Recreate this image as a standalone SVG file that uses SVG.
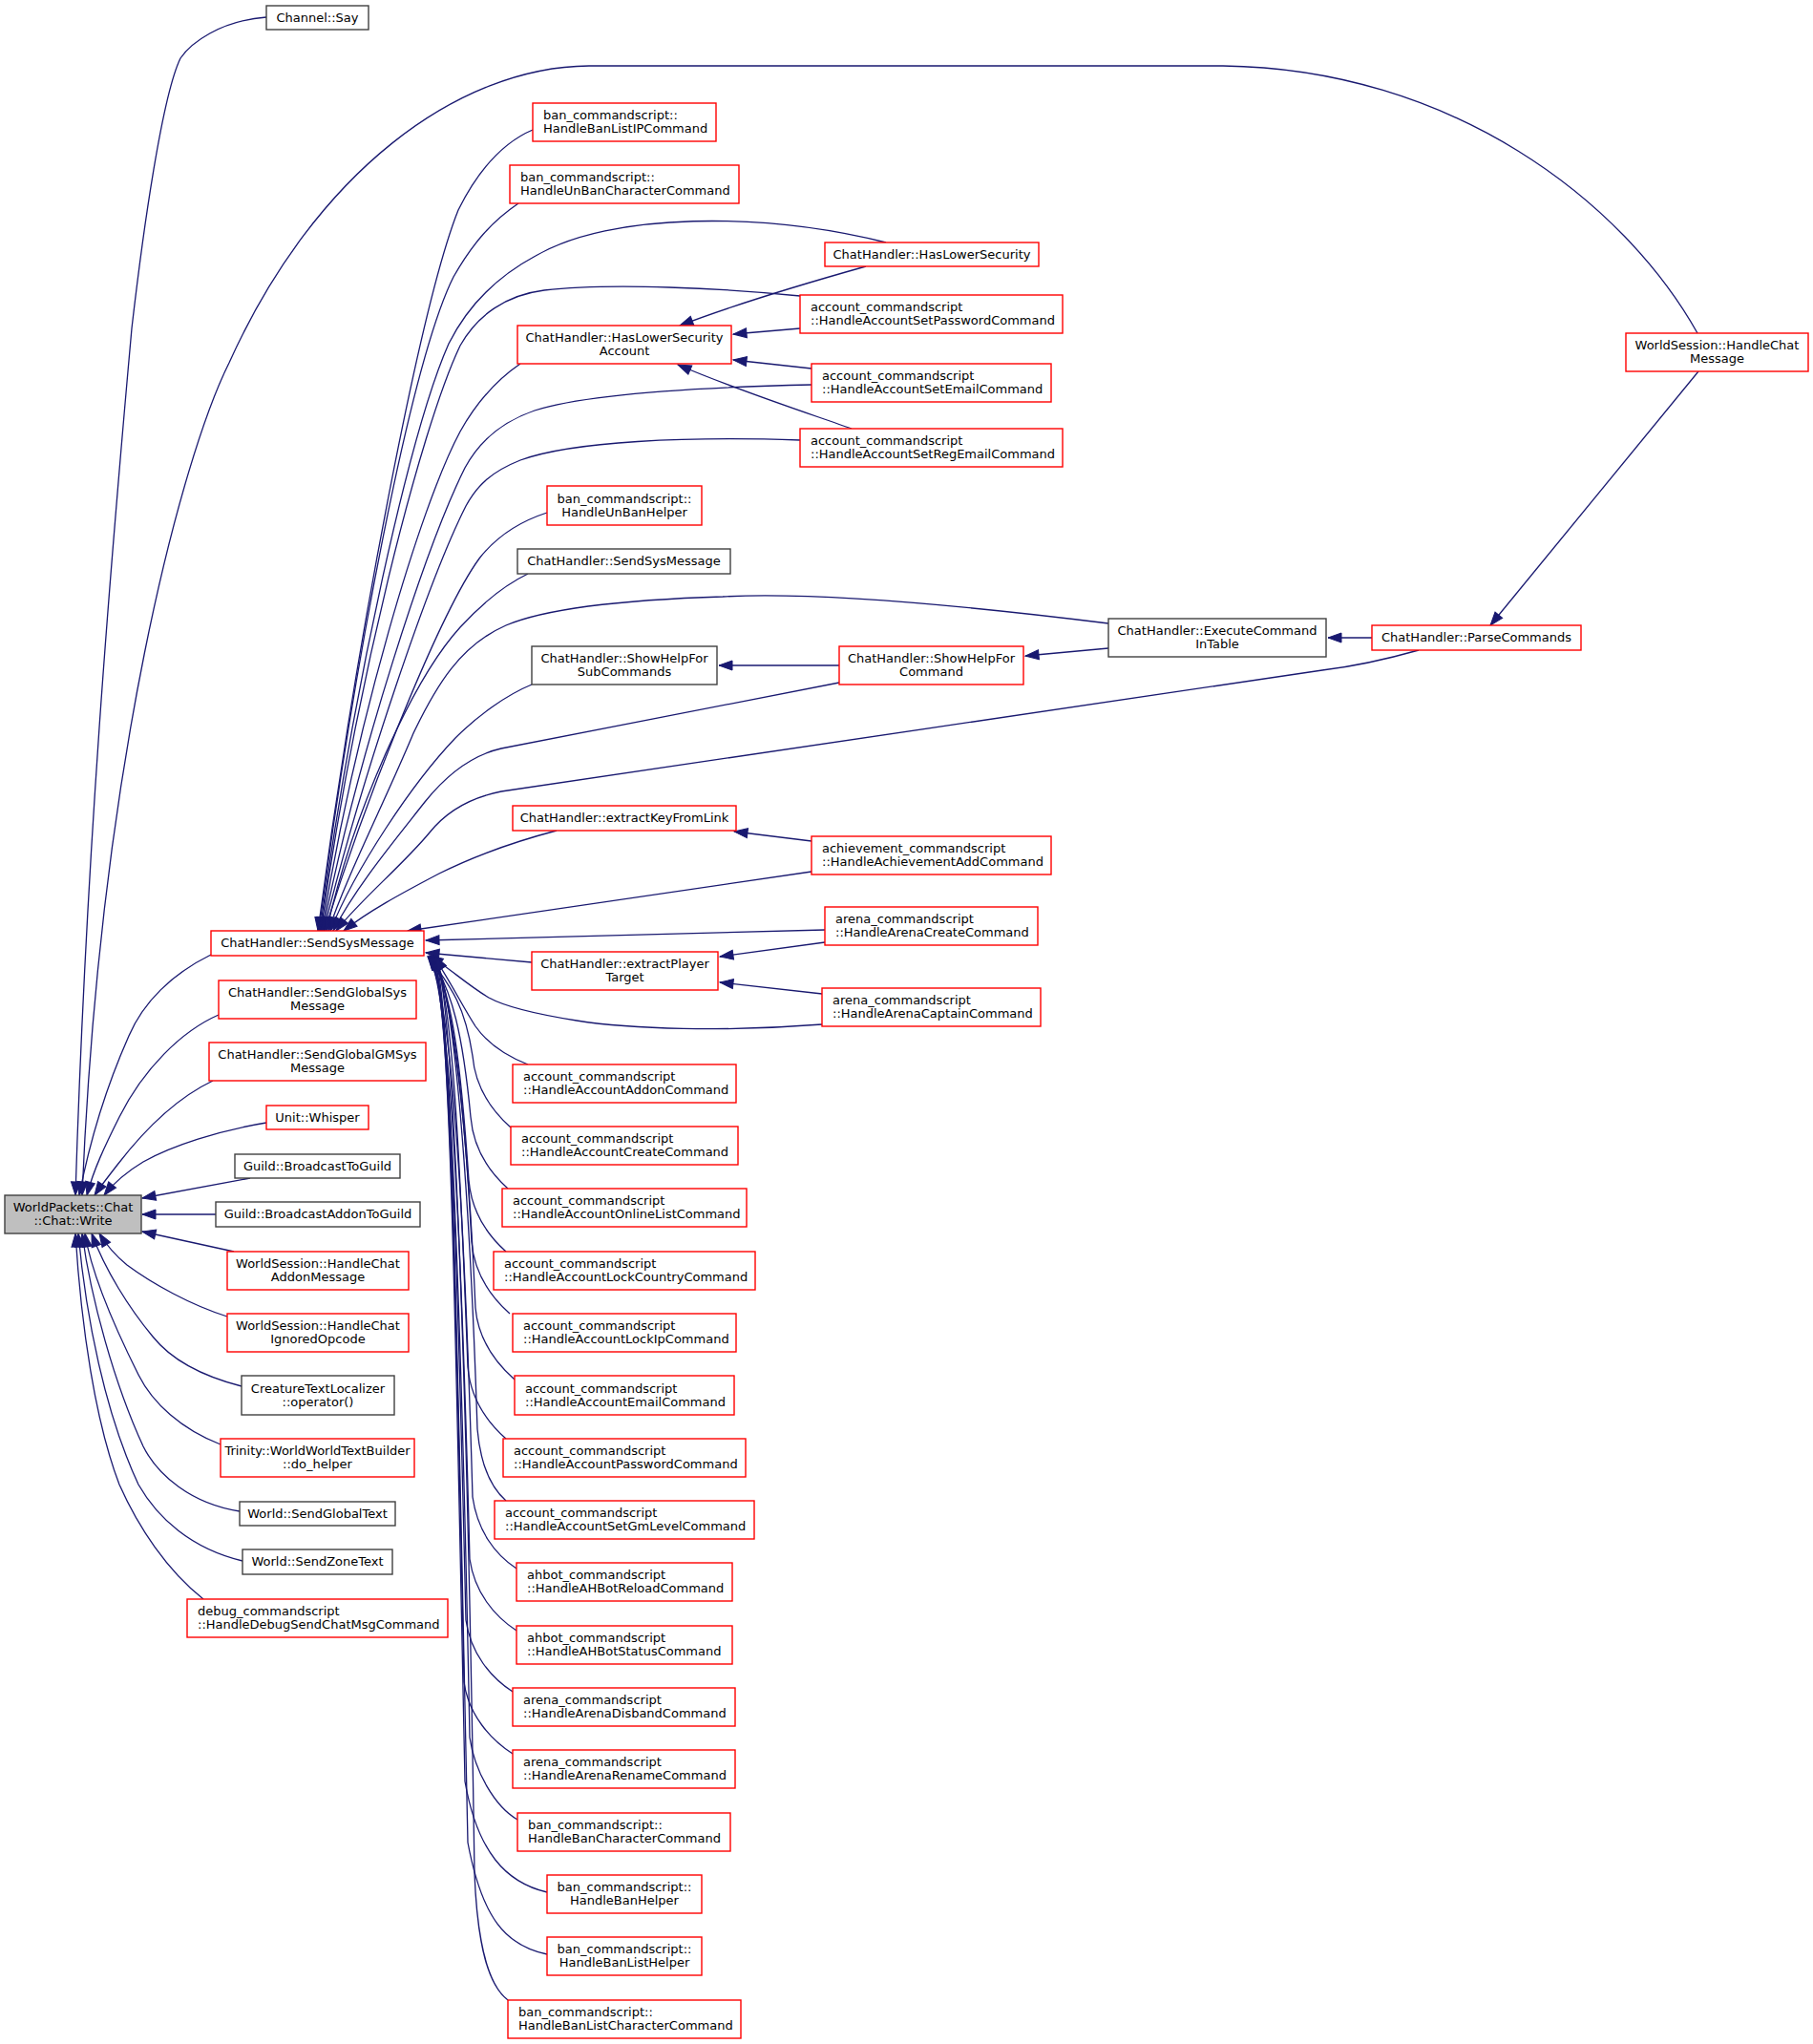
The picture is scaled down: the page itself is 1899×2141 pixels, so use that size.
<svg xmlns="http://www.w3.org/2000/svg" width="1899" height="2141" viewBox="0 0 1899 2141">
<defs>
<marker id="a" markerUnits="userSpaceOnUse" markerWidth="16" markerHeight="12" viewBox="0 0 16 12" refX="14" refY="5" orient="auto" overflow="visible">
<path d="M0,0 L14,5 L0,10 Z" fill="#191970" stroke="#191970" stroke-width="1"/>
</marker>
<style>
.r{fill:#fff;stroke:#ff0000;stroke-width:1.4}
.b{fill:#fff;stroke:#404040;stroke-width:1.4}
.m{fill:#bfbfbf;stroke:#404040;stroke-width:1.4}
text{font-family:"DejaVu Sans","Liberation Sans",sans-serif;font-size:13px;fill:#000}
.c{text-anchor:middle}
.e{fill:none;stroke:#191970;stroke-width:1.3;marker-end:url(#a)}
</style>
</defs>
<rect width="1899" height="2141" fill="#fff"/>
<g id="edges">
<path class="e" d="M558,136 C525,150 500,180 480,220 C440,320 372,680 333,975"/>
<path class="e" d="M543,213 C515,232 495,255 475,290 C430,380 370,700 334,975"/>
<path class="e" d="M928,254 C800,222 640,222 561,268 C520,290 490,320 470,360 C430,450 370,720 335,975"/>
<path class="e" d="M838,310 C760,302 640,296 570,304 C530,309 500,330 482,362 C440,450 372,720 336,975"/>
<path class="e" d="M545,381 C520,398 500,420 482,452 C440,530 372,760 337,975"/>
<path class="e" d="M850,403 C720,406 610,414 560,430 C525,442 502,462 487,490 C447,570 375,790 338,975"/>
<path class="e" d="M838,461 C720,457 600,462 545,482 C515,494 500,508 488,530 C450,605 380,810 339,975"/>
<path class="e" d="M573,537 C545,546 520,562 502,585 C462,640 385,830 340,975"/>
<path class="e" d="M553,601 C530,612 505,632 482,657 C432,712 370,850 342,975"/>
<path class="e" d="M1161,653 C1000,633 850,620 757,625 C660,628 575,636 530,655 C482,676 457,718 433,768 C403,840 362,920 344,975"/>
<path class="e" d="M557,717 C530,728 500,750 477,773 C432,820 372,910 346,975"/>
<path class="e" d="M879,715 L525,784 C490,792 465,815 445,840 C412,882 372,930 349,975"/>
<path class="e" d="M1486,681 C1440,694 1410,699 1385,702 L525,829 C490,836 466,852 450,872 C422,906 378,942 352,975"/>
<path class="e" d="M583,870 C545,880 500,895 460,915 C420,936 385,955 360,975"/>
<path class="e" d="M850,913 L427,975"/>
<path class="e" d="M864,974 L446,985"/>
<path class="e" d="M557,1008 L446,998"/>
<path class="e" d="M861,1073 C760,1081 660,1078 604,1069 C560,1062 530,1055 512,1045 C490,1032 472,1015 450,1001"/>
<path class="e" d="M907,279 C850,295 780,315 712,341"/>
<path class="e" d="M838,344 L768,350"/>
<path class="e" d="M850,386 L768,377"/>
<path class="e" d="M892,449 C850,434 770,408 710,382"/>
<path class="e" d="M879,697 L753,697"/>
<path class="e" d="M1161,679 L1074,687"/>
<path class="e" d="M1437,668 L1391,668"/>
<path class="e" d="M1779,389 L1561,655"/>
<path class="e" d="M850,881 L769,871"/>
<path class="e" d="M864,987 L754,1002"/>
<path class="e" d="M861,1041 L754,1029"/>
<path class="e" d="M279,18 C230,22 200,45 189,61 C170,100 150,240 138,344 C115,600 90,900 79,1252"/>
<path class="e" d="M1778,349 C1700,210 1520,72 1281,69 L617,69 C480,70 330,180 240,380 C190,480 105,800 86,1252"/>
<path class="e" d="M221,1000 C180,1020 150,1050 135,1085 C115,1130 95,1190 83,1252"/>
<path class="e" d="M229,1063 C190,1080 150,1120 125,1170 C110,1200 98,1225 91,1252"/>
<path class="e" d="M223,1132 C185,1150 150,1185 123,1220 C113,1233 105,1243 99,1252"/>
<path class="e" d="M279,1176 C230,1184 180,1200 150,1217 C135,1226 120,1238 109,1252"/>
<path class="e" d="M262,1234 L149,1255"/>
<path class="e" d="M226,1272 L149,1272"/>
<path class="e" d="M245,1311 L149,1290"/>
<path class="e" d="M238,1379 C200,1367 160,1345 133,1325 C122,1316 112,1305 104,1292"/>
<path class="e" d="M253,1452 C210,1441 180,1425 160,1400 C135,1370 110,1330 96,1292"/>
<path class="e" d="M231,1513 C190,1497 160,1470 145,1440 C115,1380 95,1330 89,1292"/>
<path class="e" d="M251,1583 C200,1575 165,1545 150,1515 C120,1450 95,1360 86,1292"/>
<path class="e" d="M254,1635 C200,1622 165,1590 145,1555 C110,1480 90,1380 82,1292"/>
<path class="e" d="M213,1675 C175,1645 145,1600 125,1555 C100,1490 85,1390 79,1292"/>
<path class="e" d="M553,1115 C530,1106 510,1092 498,1075 C485,1055 470,1025 455,1003"/>
<path class="e" d="M535,1181 C517,1165 498,1141 495,1106 C487,1054 474,1036 449,1002"/>
<path class="e" d="M532,1245 C514,1229 496,1205 493,1170 C485,1086 474,1036 450,1002"/>
<path class="e" d="M530,1311 C512,1295 494,1271 491,1236 C483,1119 474,1036 451,1002"/>
<path class="e" d="M534,1376 C516,1360 497,1336 494,1301 C486,1151 474,1036 452,1002"/>
<path class="e" d="M539,1445 C521,1429 501,1405 498,1370 C490,1186 474,1036 453,1002"/>
<path class="e" d="M530,1507 C512,1491 493,1467 490,1432 C482,1217 474,1036 454,1002"/>
<path class="e" d="M530,1572 C512,1556 503,1532 500,1497 C492,1250 476,1036 455,1002"/>
<path class="e" d="M541,1643 C518,1628 500,1603 495,1568 C487,1285 474,1036 448,1002"/>
<path class="e" d="M541,1708 C518,1693 497,1668 492,1633 C484,1318 472,1036 449,1002"/>
<path class="e" d="M537,1772 C514,1757 493,1732 488,1697 C480,1350 472,1036 451,1002"/>
<path class="e" d="M537,1837 C514,1822 491,1797 486,1762 C478,1382 472,1036 452,1002"/>
<path class="e" d="M542,1906 C518,1892 497,1855 492,1820 C484,1411 472,1036 453,1002"/>
<path class="e" d="M573,1982 C530,1972 500,1940 487,1866 C478,1434 472,1036 454,1002"/>
<path class="e" d="M573,2047 C530,2038 505,2010 490,1930 C480,1466 474,1036 455,1002"/>
<path class="e" d="M532,2095 C512,2080 500,2040 497,1962 C490,1482 476,1036 456,1002"/>
</g>
<g id="nodes">
<g id="write"><rect class="m" x="5" y="1252" width="143" height="40"/><text class="c" x="76.5" y="1269">WorldPackets::Chat</text><text class="c" x="76.5" y="1283.3">::Chat::Write</text></g>
<g id="channel_say"><rect class="b" x="279" y="6" width="107" height="25"/><text class="c" x="332.5" y="22.5">Channel::Say</text></g>
<g id="ban_listip"><rect class="r" x="558" y="108" width="192" height="40"/><text x="569" y="125">ban_commandscript::</text><text x="569" y="139.3">HandleBanListIPCommand</text></g>
<g id="ban_unbanchar"><rect class="r" x="534" y="173" width="240" height="40"/><text x="545" y="190">ban_commandscript::</text><text x="545" y="204.3">HandleUnBanCharacterCommand</text></g>
<g id="haslowersec"><rect class="r" x="864" y="254" width="224" height="25"/><text class="c" x="976" y="270.5">ChatHandler::HasLowerSecurity</text></g>
<g id="acc_setpass"><rect class="r" x="838" y="309" width="275" height="40"/><text x="849" y="326">account_commandscript</text><text x="849" y="340.3">::HandleAccountSetPasswordCommand</text></g>
<g id="hlsa"><rect class="r" x="542" y="341" width="224" height="40"/><text class="c" x="654" y="358">ChatHandler::HasLowerSecurity</text><text class="c" x="654" y="372.3">Account</text></g>
<g id="acc_setemail"><rect class="r" x="850" y="381" width="251" height="40"/><text x="861" y="398">account_commandscript</text><text x="861" y="412.3">::HandleAccountSetEmailCommand</text></g>
<g id="acc_setregemail"><rect class="r" x="838" y="449" width="275" height="40"/><text x="849" y="466">account_commandscript</text><text x="849" y="480.3">::HandleAccountSetRegEmailCommand</text></g>
<g id="ban_unbanhelper"><rect class="r" x="573" y="509" width="162" height="41"/><text class="c" x="654" y="526.5">ban_commandscript::</text><text class="c" x="654" y="540.8">HandleUnBanHelper</text></g>
<g id="sendsysmsg2"><rect class="b" x="542" y="575" width="223" height="26"/><text class="c" x="653.5" y="592">ChatHandler::SendSysMessage</text></g>
<g id="exec_cmd"><rect class="b" x="1161" y="648" width="228" height="40"/><text class="c" x="1275" y="665">ChatHandler::ExecuteCommand</text><text class="c" x="1275" y="679.3">InTable</text></g>
<g id="parse_cmds"><rect class="r" x="1437" y="655" width="219" height="26"/><text class="c" x="1546.5" y="672">ChatHandler::ParseCommands</text></g>
<g id="ws_chatmsg"><rect class="r" x="1703" y="349" width="191" height="40"/><text class="c" x="1798.5" y="366">WorldSession::HandleChat</text><text class="c" x="1798.5" y="380.3">Message</text></g>
<g id="showhelp_sub"><rect class="b" x="557" y="677" width="194" height="40"/><text class="c" x="654" y="694">ChatHandler::ShowHelpFor</text><text class="c" x="654" y="708.3">SubCommands</text></g>
<g id="showhelp_cmd"><rect class="r" x="879" y="677" width="193" height="40"/><text class="c" x="975.5" y="694">ChatHandler::ShowHelpFor</text><text class="c" x="975.5" y="708.3">Command</text></g>
<g id="extract_key"><rect class="r" x="537" y="844" width="234" height="26"/><text class="c" x="654" y="861">ChatHandler::extractKeyFromLink</text></g>
<g id="ach_add"><rect class="r" x="850" y="876" width="251" height="40"/><text x="861" y="893">achievement_commandscript</text><text x="861" y="907.3">::HandleAchievementAddCommand</text></g>
<g id="arena_create"><rect class="r" x="864" y="950" width="223" height="40"/><text x="875" y="967">arena_commandscript</text><text x="875" y="981.3">::HandleArenaCreateCommand</text></g>
<g id="sendsysmsg"><rect class="r" x="221" y="975" width="223" height="26"/><text class="c" x="332.5" y="992">ChatHandler::SendSysMessage</text></g>
<g id="extract_player"><rect class="r" x="557" y="997" width="195" height="40"/><text class="c" x="654.5" y="1014">ChatHandler::extractPlayer</text><text class="c" x="654.5" y="1028.3">Target</text></g>
<g id="arena_captain"><rect class="r" x="861" y="1035" width="229" height="40"/><text x="872" y="1052">arena_commandscript</text><text x="872" y="1066.3">::HandleArenaCaptainCommand</text></g>
<g id="sendglobalsys"><rect class="r" x="229" y="1027" width="207" height="40"/><text class="c" x="332.5" y="1044">ChatHandler::SendGlobalSys</text><text class="c" x="332.5" y="1058.3">Message</text></g>
<g id="sendglobalgmsys"><rect class="r" x="219" y="1092" width="227" height="40"/><text class="c" x="332.5" y="1109">ChatHandler::SendGlobalGMSys</text><text class="c" x="332.5" y="1123.3">Message</text></g>
<g id="whisper"><rect class="r" x="279" y="1158" width="107" height="25"/><text class="c" x="332.5" y="1174.5">Unit::Whisper</text></g>
<g id="bcast_guild"><rect class="b" x="246" y="1209" width="173" height="25"/><text class="c" x="332.5" y="1225.5">Guild::BroadcastToGuild</text></g>
<g id="bcast_addon"><rect class="b" x="226" y="1259" width="214" height="26"/><text class="c" x="333" y="1276">Guild::BroadcastAddonToGuild</text></g>
<g id="ws_addon"><rect class="r" x="238" y="1311" width="190" height="40"/><text class="c" x="333" y="1328">WorldSession::HandleChat</text><text class="c" x="333" y="1342.3">AddonMessage</text></g>
<g id="ws_ignored"><rect class="r" x="238" y="1376" width="190" height="40"/><text class="c" x="333" y="1393">WorldSession::HandleChat</text><text class="c" x="333" y="1407.3">IgnoredOpcode</text></g>
<g id="ctl_op"><rect class="b" x="253" y="1441" width="160" height="41"/><text class="c" x="333" y="1458.5">CreatureTextLocalizer</text><text class="c" x="333" y="1472.8">::operator()</text></g>
<g id="trinity"><rect class="r" x="231" y="1507" width="203" height="40"/><text class="c" x="332.5" y="1524">Trinity::WorldWorldTextBuilder</text><text class="c" x="332.5" y="1538.3">::do_helper</text></g>
<g id="sendglobaltext"><rect class="b" x="251" y="1573" width="163" height="25"/><text class="c" x="332.5" y="1589.5">World::SendGlobalText</text></g>
<g id="sendzonetext"><rect class="b" x="254" y="1623" width="157" height="26"/><text class="c" x="332.5" y="1640">World::SendZoneText</text></g>
<g id="debug_chat"><rect class="r" x="196" y="1675" width="273" height="40"/><text x="207" y="1692">debug_commandscript</text><text x="207" y="1706.3">::HandleDebugSendChatMsgCommand</text></g>
<g id="acc_addon"><rect class="r" x="537" y="1115" width="234" height="40"/><text x="548" y="1132">account_commandscript</text><text x="548" y="1146.3">::HandleAccountAddonCommand</text></g>
<g id="acc_create"><rect class="r" x="535" y="1180" width="238" height="40"/><text x="546" y="1197">account_commandscript</text><text x="546" y="1211.3">::HandleAccountCreateCommand</text></g>
<g id="acc_online"><rect class="r" x="526" y="1245" width="256" height="40"/><text x="537" y="1262">account_commandscript</text><text x="537" y="1276.3">::HandleAccountOnlineListCommand</text></g>
<g id="acc_lockcountry"><rect class="r" x="517" y="1311" width="274" height="40"/><text x="528" y="1328">account_commandscript</text><text x="528" y="1342.3">::HandleAccountLockCountryCommand</text></g>
<g id="acc_lockip"><rect class="r" x="537" y="1376" width="234" height="40"/><text x="548" y="1393">account_commandscript</text><text x="548" y="1407.3">::HandleAccountLockIpCommand</text></g>
<g id="acc_email"><rect class="r" x="539" y="1441" width="230" height="41"/><text x="550" y="1458.5">account_commandscript</text><text x="550" y="1472.8">::HandleAccountEmailCommand</text></g>
<g id="acc_password"><rect class="r" x="527" y="1507" width="254" height="40"/><text x="538" y="1524">account_commandscript</text><text x="538" y="1538.3">::HandleAccountPasswordCommand</text></g>
<g id="acc_setgm"><rect class="r" x="518" y="1572" width="272" height="40"/><text x="529" y="1589">account_commandscript</text><text x="529" y="1603.3">::HandleAccountSetGmLevelCommand</text></g>
<g id="ahbot_reload"><rect class="r" x="541" y="1637" width="226" height="40"/><text x="552" y="1654">ahbot_commandscript</text><text x="552" y="1668.3">::HandleAHBotReloadCommand</text></g>
<g id="ahbot_status"><rect class="r" x="541" y="1703" width="226" height="40"/><text x="552" y="1720">ahbot_commandscript</text><text x="552" y="1734.3">::HandleAHBotStatusCommand</text></g>
<g id="arena_disband"><rect class="r" x="537" y="1768" width="233" height="40"/><text x="548" y="1785">arena_commandscript</text><text x="548" y="1799.3">::HandleArenaDisbandCommand</text></g>
<g id="arena_rename"><rect class="r" x="537" y="1833" width="233" height="40"/><text x="548" y="1850">arena_commandscript</text><text x="548" y="1864.3">::HandleArenaRenameCommand</text></g>
<g id="ban_char"><rect class="r" x="542" y="1899" width="223" height="40"/><text x="553" y="1916">ban_commandscript::</text><text x="553" y="1930.3">HandleBanCharacterCommand</text></g>
<g id="ban_helper"><rect class="r" x="573" y="1964" width="162" height="40"/><text class="c" x="654" y="1981">ban_commandscript::</text><text class="c" x="654" y="1995.3">HandleBanHelper</text></g>
<g id="ban_listhelper"><rect class="r" x="573" y="2029" width="162" height="40"/><text class="c" x="654" y="2046">ban_commandscript::</text><text class="c" x="654" y="2060.3">HandleBanListHelper</text></g>
<g id="ban_listchar"><rect class="r" x="532" y="2095" width="244" height="40"/><text x="543" y="2112">ban_commandscript::</text><text x="543" y="2126.3">HandleBanListCharacterCommand</text></g>
</g>
</svg>
